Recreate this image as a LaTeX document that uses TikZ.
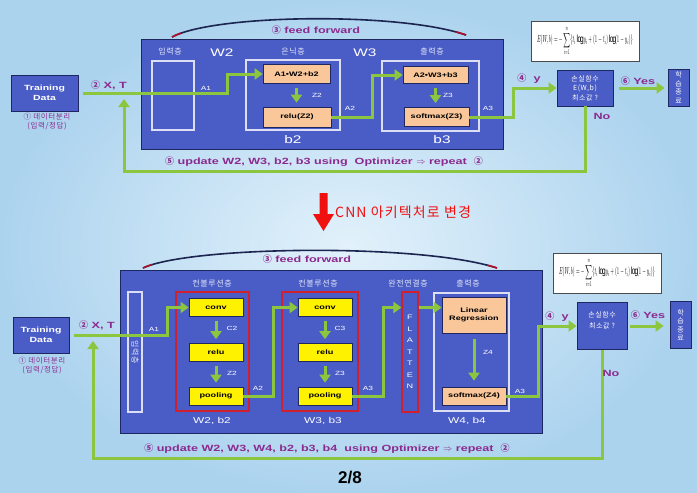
\documentclass[tikz,border=0pt]{standalone}
\usepackage{fontspec}
\usepackage{graphicx}
\setmainfont{Liberation Sans}[FakeStretch=1.4]
\newfontfamily\plainsans{Liberation Sans}
\newfontfamily\kr{Noto Sans CJK KR}
\newfontfamily\krsp{Noto Sans CJK KR}[LetterSpace=8]
\usetikzlibrary{arrows.meta, positioning, calc}
\definecolor{bgblue}{HTML}{E2F1FB}
\definecolor{bgedge}{HTML}{ACD3EE}
\definecolor{boxblue}{HTML}{4A5CC6}
\definecolor{navy}{HTML}{1E2760}
\definecolor{peach}{HTML}{F9C79A}
\definecolor{lime}{HTML}{8CC63F}
\definecolor{purp}{HTML}{8B2A8E}
\definecolor{redline}{HTML}{D0202E}
\definecolor{cnnred}{HTML}{F01010}
\definecolor{arcnavy}{HTML}{1C2450}
\definecolor{arcred}{HTML}{B0102A}
\newcommand{\circnum}[1]{{\kr #1}}
\newcommand{\lossformula}{\resizebox*{96pt}{30pt}{$E(W,b)=-\displaystyle\sum_{i=1}^{n}\{t_i\log y_i+(1-t_i)\log(1-y_i)\}$}}

\begin{document}
\begin{tikzpicture}[x=1pt, y=-1pt,
  >={Triangle[length=8pt, width=11pt]},
  blkbox/.style={draw=navy, line width=0.8pt, fill=boxblue, text=white,
    align=center, inner sep=0pt},
  lyrbox/.style={draw=white!80!boxblue, line width=1.1pt},
  convbox/.style={draw=redline, line width=1.1pt},
  peachbox/.style={draw=navy, line width=0.7pt, fill=peach, text=black,
    inner sep=0pt, font=\fontsize{6.5}{8}\selectfont\bfseries},
  yelbox/.style={draw=navy, line width=0.7pt, fill=yellow, text=black,
    inner sep=0pt, font=\fontsize{6.5}{8}\selectfont\bfseries,
    minimum width=54pt, minimum height=18pt},
  wlbl/.style={text=white, font=\fontsize{6}{7}\selectfont, inner sep=0pt},
  krlbl/.style={text=white!85!boxblue, font=\krsp\fontsize{8}{9}\selectfont, inner sep=0pt},
  biglbl/.style={text=white, font=\fontsize{11}{12}\selectfont, inner sep=0pt},
  plbl/.style={text=purp, font=\fontsize{9}{10}\selectfont\bfseries, inner sep=0pt},
  garr/.style={->, line width=3pt, draw=lime},
  eqbox/.style={draw=black!70, line width=1pt, fill=white,
    minimum width=108pt, minimum height=40pt, inner sep=0pt},
  ffarc/.style={line width=1.6pt, draw=arcnavy},
]

% Background
\shade[inner color=bgblue, outer color=bgedge] (0,0) rectangle (697,493);
\useasboundingbox (0,0) rectangle (697,493);

% =============================================
% Top: fully connected network
% =============================================
\node[blkbox, minimum width=67pt, minimum height=36pt,
  font=\fontsize{7.5}{9.5}\selectfont\bfseries] (td1) at (44.5,93) {Training\\Data};
\node[text=purp, font=\krsp\fontsize{7.5}{9}\selectfont, align=center] (sep1)
  at (47,122) {① 데이터분리\\(입력/정답)};

\node[blkbox, minimum width=362pt, minimum height=110pt] (big1) at (322,94) {};
\node[lyrbox, minimum width=42pt, minimum height=69pt] (inl1) at (173,95.5) {};
\node[lyrbox, minimum width=94pt, minimum height=70pt] (hidl1) at (293,95) {};
\node[lyrbox, minimum width=97pt, minimum height=70pt] (outl1) at (430.5,96) {};

\node[peachbox, minimum width=67pt, minimum height=19pt] (h1a) at (296.5,74) {A1•W2+b2};
\node[peachbox, minimum width=68pt, minimum height=20pt] (h1b) at (297,117) {relu(Z2)};
\node[peachbox, minimum width=65pt, minimum height=17pt] (o1a) at (435.5,75) {A2•W3+b3};
\node[peachbox, minimum width=65pt, minimum height=19pt] (o1b) at (436.5,117) {softmax(Z3)};

% layer labels
\node[krlbl] at (170,51) {입력층};
\node[krlbl] at (293,51) {은닉층};
\node[krlbl] at (432,51) {출력층};
\node[biglbl] at (222,53) {W2};
\node[biglbl] at (365,53) {W3};
\node[biglbl] at (293,140) {b2};
\node[biglbl] at (442,140) {b3};
\node[wlbl] at (206,88) {A1};
\node[wlbl] at (350,108) {A2};
\node[wlbl] at (488,108) {A3};
\node[wlbl] at (317,95) {Z2};
\node[wlbl] at (448,95) {Z3};

% loss, stop, formula
\node[blkbox, minimum width=56pt, minimum height=36pt,
  font=\krsp\fontsize{7}{9.5}\selectfont] (loss1) at (585,88) {손실함수\\E(W,b)\\최소값 ?};
\node[blkbox, minimum width=21pt, minimum height=37pt,
  font=\kr\fontsize{7}{8.5}\selectfont] (stop1) at (678.5,87.5) {학\\습\\종\\료};
\node[eqbox] (eq1) at (585,41) {\lossformula};

% feed forward arc
\draw[ffarc] (172,37) .. controls (215,14) and (400,12) .. (466,35);
\begin{scope}
  \clip (160,0) rectangle (181,60) (456,0) rectangle (480,60);
  \draw[ffarc, draw=arcred] (172,37) .. controls (215,14) and (400,12) .. (466,35);
\end{scope}
\node[plbl] (ff1) at (316,30) {\circnum{③} feed forward};

% connectors
\draw[garr, shorten <=5pt] (td1.east) -- (227,93) |- (h1a.west);
\draw[garr, shorten <=4pt, shorten >=4pt] (h1a.south) -- (h1a.south |- h1b.north);
\draw[garr] (h1b.east) -| (372,95) |- (o1a.west);
\draw[garr, shorten <=4pt, shorten >=4pt] (o1a.south) -- (o1a.south |- o1b.north);
\draw[garr] (o1b.east) -| (513,100) |- (loss1.west);
\draw[garr, shorten <=6pt, shorten >=3pt] (loss1.east) -- (stop1.west |- loss1.east);
\coordinate (fb1) at (124,99);
\draw[garr] (loss1.south) -- (585,171) -| (fb1);

\node[plbl] at (109,85) {\circnum{②} X, T};
\node[plbl] at (529,79) {\circnum{④}~~y};
\node[plbl] at (638,81) {\circnum{⑥} Yes};
\node[plbl] at (602,116) {No};
\node[plbl] at (324,162)
  {\circnum{⑤} update W2, W3, b2, b3 using~ Optimizer $\Rightarrow$ repeat~ \circnum{②}};

% =============================================
% Change to CNN
% =============================================
\fill[cnnred] (319.5,193) -- (327.5,193) -- (327.5,214) -- (334,214)
  -- (323.5,231) -- (313,214) -- (319.5,214) -- cycle;
\node[text=cnnred, font=\krsp\fontsize{14}{15}\selectfont, anchor=west, inner sep=0pt]
  (cnn) at (335,212) {CNN 아키텍처로 변경};

% =============================================
% Bottom: CNN
% =============================================
\node[blkbox, minimum width=56pt, minimum height=36pt,
  font=\fontsize{7.5}{9.5}\selectfont\bfseries] (td2) at (41,335) {Training\\Data};
\node[text=purp, font=\krsp\fontsize{7.5}{9}\selectfont, align=center] (sep2)
  at (42,366) {① 데이터분리\\(입력/정답)};

\node[blkbox, minimum width=422pt, minimum height=163pt] (big2) at (331,351.5) {};
\node[lyrbox, minimum width=14pt, minimum height=120pt] (inl2) at (135,352) {};
\node[krlbl, rotate=-90] at (inl2) {입력층};
\node[convbox, minimum width=73pt, minimum height=119pt] (cl1) at (212.5,351.5) {};
\node[convbox, minimum width=76pt, minimum height=119pt] (cl2) at (320,351.5) {};
\node[convbox, minimum width=16pt, minimum height=120pt, text=white, align=center,
  font=\fontsize{6.5}{11.5}\selectfont] (flat) at (410,352) {F\\L\\A\\T\\T\\E\\N};
\node[lyrbox, minimum width=75pt, minimum height=118pt] (outl2) at (471.5,352) {};

\node[yelbox] (cv1a) at (216,307.5) {conv};
\node[yelbox] (cv1b) at (216,352.5) {relu};
\node[yelbox] (cv1c) at (216,396) {pooling};
\node[yelbox] (cv2a) at (325,307.5) {conv};
\node[yelbox] (cv2b) at (325,352.5) {relu};
\node[yelbox] (cv2c) at (325,396) {pooling};

\node[peachbox, minimum width=64pt, minimum height=36pt, align=center] (lr2) at (474,315)
  {Linear\\Regression};
\node[peachbox, minimum width=64pt, minimum height=18pt] (sm2) at (474,396) {softmax(Z4)};

% layer labels
\node[krlbl] at (212,283) {컨볼루션층};
\node[krlbl] at (318,283) {컨볼루션층};
\node[krlbl] at (408,283) {완전연결층};
\node[krlbl] at (468,283) {출력층};
\node[biglbl, font=\fontsize{8.5}{10}\selectfont] at (212,421) {W2, b2};
\node[biglbl, font=\fontsize{8.5}{10}\selectfont] at (323,421) {W3, b3};
\node[biglbl, font=\fontsize{8.5}{10}\selectfont] at (467,421) {W4, b4};
\node[wlbl] at (154,329) {A1};
\node[wlbl] at (258,388) {A2};
\node[wlbl] at (368,388) {A3};
\node[wlbl] at (520,391) {A3};
\node[wlbl] at (232,328) {C2};
\node[wlbl] at (232,373) {Z2};
\node[wlbl] at (340,328) {C3};
\node[wlbl] at (340,373) {Z3};
\node[wlbl] at (488,352) {Z4};

% loss, stop, formula
\node[blkbox, minimum width=50pt, minimum height=47pt,
  font=\krsp\fontsize{7}{11}\selectfont] (loss2) at (602,326) {손실함수\\최소값 ?\\\mbox{}};
\node[blkbox, minimum width=21pt, minimum height=47pt,
  font=\kr\fontsize{7}{8.5}\selectfont] (stop2) at (680.5,325) {학\\습\\종\\료};
\node[eqbox] (eq2) at (607,273) {\lossformula};

% feed forward arc
\draw[ffarc] (143,268) .. controls (190,246) and (420,243) .. (497,268);
\begin{scope}
  \clip (130,230) rectangle (152,290) (487,230) rectangle (510,290);
  \draw[ffarc, draw=arcred] (143,268) .. controls (190,246) and (420,243) .. (497,268);
\end{scope}
\node[plbl] (ff2) at (307,259) {\circnum{③} feed forward};

% connectors
\draw[garr, shorten <=5pt] (td2.east) -- (167,335) |- (cv1a.west);
\draw[garr, shorten <=4pt, shorten >=4pt] (cv1a) -- (cv1b);
\draw[garr, shorten <=4pt, shorten >=4pt] (cv1b) -- (cv1c);
\draw[garr] (cv1c.east) -| (273,350) |- (cv2a.west);
\draw[garr, shorten <=4pt, shorten >=4pt] (cv2a) -- (cv2b);
\draw[garr, shorten <=4pt, shorten >=4pt] (cv2b) -- (cv2c);
\draw[garr] (cv2c.east) -| (383,350) |- (flat.west |- cv2a.west);
\draw[garr] (flat.east |- cv2a.west) -- (lr2.west |- cv2a.west);
\draw[garr, shorten <=6pt, shorten >=6pt] (lr2) -- (sm2);
\draw[garr] (sm2.east) -| (538,360) |- (loss2.west);
\draw[garr, shorten <=3pt, shorten >=6pt] (loss2.east) -- (stop2.west |- loss2.east);
\coordinate (fb2) at (93,341);
\draw[garr] (loss2.south) -- (602,458) -| (fb2);

\node[plbl] at (97,325) {\circnum{②} X, T};
\node[plbl] at (557,317) {\circnum{④}~~y};
\node[plbl] at (648,315) {\circnum{⑥} Yes};
\node[plbl] at (611,373) {No};
\node[plbl] at (327,449)
  {\circnum{⑤} update W2, W3, W4, b2, b3, b4~ using Optimizer $\Rightarrow$ repeat~ \circnum{②}};

% page number
\node[font=\plainsans\fontsize{17}{18}\selectfont\bfseries] (pg) at (350,478) {2/8};

\end{tikzpicture}
\end{document}
